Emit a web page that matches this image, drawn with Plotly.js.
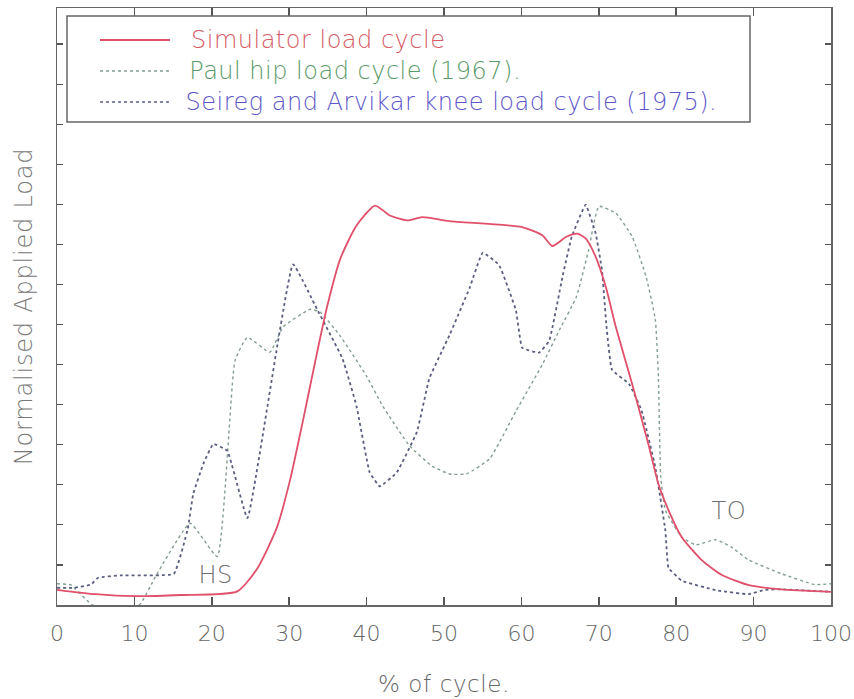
<!DOCTYPE html>
<html>
<head>
<meta charset="utf-8">
<script src="https://cdn.plot.ly/plotly-3.0.1.min.js"></script>
<style>
html,body{margin:0;padding:0;background:#fff;}
#chart{width:854px;height:699px;}
#chart .annotation-text{letter-spacing:0.5px;}
#chart .ytitle{letter-spacing:0.8px;}
#chart .xtitle{letter-spacing:0.6px;}
</style>
</head>
<body>
<div id="chart"></div>
<script>
// Simulator load cycle
const simX = [0, 5, 10, 16, 23.3, 25.9, 28.4, 30.1, 31.8, 33.6, 34.9, 36.6, 38.7, 41.1, 43.0, 45.2, 47.2, 50.7, 60.1, 62.7, 64.0, 65.8, 67.2, 68.3, 69.6, 70.9, 72.2, 74.3, 76.4, 77.7, 79.0, 80.7, 83.3, 85.9, 89.3, 93.6, 100];
const simY = [0.038, 0.027, 0.022, 0.025, 0.034, 0.092, 0.193, 0.311, 0.462, 0.630, 0.745, 0.864, 0.947, 0.997, 0.972, 0.960, 0.968, 0.958, 0.943, 0.923, 0.896, 0.919, 0.927, 0.915, 0.869, 0.794, 0.694, 0.552, 0.402, 0.302, 0.237, 0.170, 0.112, 0.075, 0.050, 0.039, 0.033];

// Paul hip load cycle (1967)
const paulX = [0, 1.8, 4.6, 10.6, 12.7, 17.2, 20.7, 23.0, 24.6, 27.5, 29.2, 32.7, 34.0, 36.6, 40.0, 42.1, 45.6, 48.5, 50.7, 52.9, 55.9, 59.3, 62.7, 64.9, 67.1, 68.7, 70.0, 72.2, 74.3, 76.1, 77.3, 77.7, 78.0, 78.6, 80.7, 82.5, 85.1, 87.1, 89.3, 93.6, 97.9, 100];
const paulY = [0.053, 0.050, 0.0, 0.0, 0.070, 0.204, 0.121, 0.610, 0.668, 0.631, 0.694, 0.738, 0.731, 0.671, 0.571, 0.496, 0.396, 0.346, 0.327, 0.327, 0.365, 0.484, 0.600, 0.686, 0.769, 0.887, 0.995, 0.978, 0.920, 0.820, 0.713, 0.570, 0.320, 0.237, 0.170, 0.150, 0.163, 0.145, 0.113, 0.078, 0.051, 0.053];

// Seireg and Arvikar knee load cycle (1975)
const seiX = [0, 2.2, 4.4, 5.3, 8.2, 15.1, 16.9, 17.6, 18.9, 20.2, 22.0, 24.6, 30.5, 33.6, 36.9, 38.7, 40.4, 41.7, 43.9, 46.5, 48.1, 50.7, 53.3, 55.0, 57.1, 59.3, 60.1, 62.3, 63.6, 65.3, 66.5, 68.3, 69.6, 70.4, 71.0, 71.7, 73.9, 75.5, 77.3, 78.6, 79.0, 80.7, 85.1, 89.3, 91.5, 93.6, 100];
const seiY = [0.043, 0.043, 0.051, 0.068, 0.074, 0.078, 0.191, 0.277, 0.352, 0.402, 0.385, 0.217, 0.850, 0.738, 0.614, 0.496, 0.331, 0.296, 0.331, 0.432, 0.565, 0.673, 0.791, 0.879, 0.849, 0.735, 0.642, 0.630, 0.660, 0.818, 0.919, 0.999, 0.927, 0.837, 0.694, 0.587, 0.552, 0.487, 0.344, 0.186, 0.093, 0.061, 0.037, 0.027, 0.038, 0.039, 0.033];

const xTicks = [0, 10, 20, 30, 40, 50, 60, 70, 80, 90, 100];
const seriesNames = ["Simulator load cycle", "Paul hip load cycle (1967).", "Seireg and Arvikar knee load cycle (1975)."];

const FONT = "DejaVu Sans, Verdana, sans-serif";
const cRed = "#e0506a", cGreen = "#829e8e", cBlue = "#5a5e80";
const tRed = "#d45a64", tGreen = "#5a9a68", tBlue = "#5c56c8";

const traces = [
  {x: paulX, y: paulY, mode: "lines", line: {color: cGreen, width: 1.4, dash: "dot", shape: "spline", smoothing: 0.4}, name: seriesNames[1], showlegend: false},
  {x: seiX, y: seiY, mode: "lines", line: {color: cBlue, width: 1.8, dash: "dot", shape: "spline", smoothing: 0.3}, name: seriesNames[2], showlegend: false},
  {x: simX, y: simY, mode: "lines", line: {color: cRed, width: 1.8, shape: "spline", smoothing: 0.6}, name: seriesNames[0], showlegend: false}
];

// manual legend (paper coordinates)
const L = 57, R = 831, T = 8, B = 605;
function px2x(p){ return (p - L) / (R - L); }
function py2y(p){ return 1 - (p - T) / (B - T); }
const rowsY = [40, 71, 102];
const lineCols = [cRed, cGreen, cBlue];
const textCols = [tRed, tGreen, tBlue];
const dashes = ["solid", "dot", "dot"];

const shapes = [{type: "rect", xref: "paper", yref: "paper", x0: px2x(67), x1: px2x(750), y0: py2y(122), y1: py2y(16), line: {color: "#666", width: 1.5}, fillcolor: "rgba(0,0,0,0)"}];
const annotations = [];
for (let i = 0; i < 3; i++) {
  shapes.push({type: "line", xref: "paper", yref: "paper", x0: px2x(100), x1: px2x(170), y0: py2y(rowsY[i]), y1: py2y(rowsY[i]), line: {color: lineCols[i], width: i === 0 ? 1.8 : 1.4, dash: dashes[i]}});
  annotations.push({xref: "paper", yref: "paper", x: px2x(194), y: py2y(rowsY[i]), xanchor: "left", yanchor: "middle", text: seriesNames[i], showarrow: false, font: {family: FONT, size: 24, color: textCols[i], weight: 300}});
}
annotations.push({x: 20.5, y: 0.075, xref: "x", yref: "y", text: "HS", showarrow: false, font: {family: FONT, size: 24, color: "#707070", weight: 300}});
annotations.push({x: 86.8, y: 0.235, xref: "x", yref: "y", text: "TO", showarrow: false, font: {family: FONT, size: 24, color: "#707070", weight: 300}});

const layout = {
  width: 854, height: 699,
  margin: {l: L, r: 854 - R, t: T, b: 699 - B},
  paper_bgcolor: "#fff", plot_bgcolor: "#fff",
  showlegend: false,
  xaxis: {
    range: [0, 100], tickvals: xTicks, ticktext: xTicks.map(String),
    ticks: "inside", ticklen: 8, tickcolor: "#555", tickwidth: 1.5,
    showline: true, linecolor: "#666", linewidth: 1.5, mirror: "allticks",
    showgrid: false, zeroline: false, ticklabelstandoff: 8, ticklabeloverflow: "allow",
    tickfont: {family: FONT, size: 22, color: "#666", weight: 300},
    title: {text: "% of cycle.", font: {family: FONT, size: 23, color: "#666", weight: 300}, standoff: 31}
  },
  yaxis: {
    range: [0, 1.49], dtick: 0.1, tick0: 0,
    ticks: "inside", ticklen: 6, tickcolor: "#555", tickwidth: 1.2,
    showline: true, linecolor: "#666", linewidth: 1.5, mirror: "allticks",
    showgrid: false, zeroline: false, showticklabels: false,
    title: {text: "Normalised Applied Load", font: {family: FONT, size: 24, color: "#777", weight: 300}, standoff: 16}
  },
  shapes: shapes,
  annotations: annotations
};

Plotly.newPlot("chart", traces, layout, {displayModeBar: false, staticPlot: true});
</script>
</body>
</html>
